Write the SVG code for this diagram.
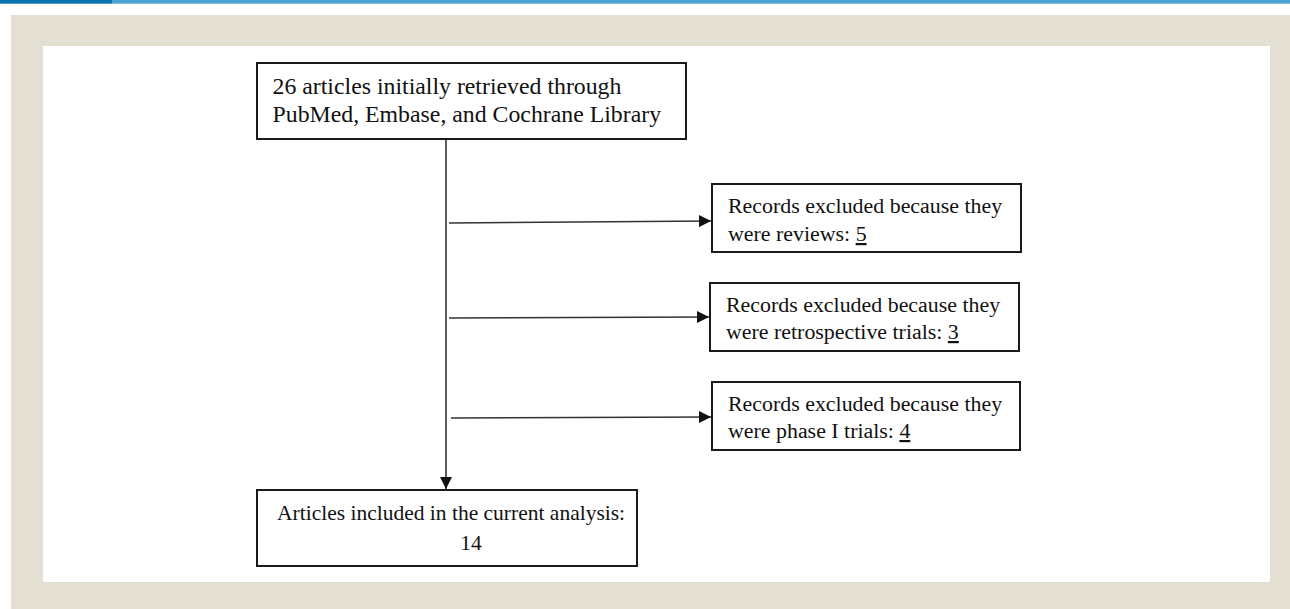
<svg xmlns="http://www.w3.org/2000/svg" width="1290" height="609" viewBox="0 0 1290 609">
<style>
.bg{fill:#e4dfd3}
.box{fill:#ffffff;stroke:#1a1a1a;stroke-width:2}
.t{font-family:"Liberation Serif","Times New Roman",serif;fill:#111111}
.conn{stroke:#333333;stroke-width:1.6;fill:none}
</style>
<defs>
<marker id="ah" viewBox="0 0 10 10" refX="10" refY="5" markerWidth="12" markerHeight="12" markerUnits="userSpaceOnUse" orient="auto">
<path d="M0,0 L10,5 L0,10 Z" fill="#111111"/>
</marker>
</defs>
<rect x="0" y="0" width="1290" height="609" fill="#ffffff"/>
<rect x="0" y="0" width="112" height="3.7" fill="#0a74ad"/>
<rect x="112" y="0" width="1178" height="3.7" fill="#4aa3cf"/>
<rect class="bg" x="11" y="15" width="1279" height="31"/>
<rect class="bg" x="11" y="46" width="32" height="536"/>
<rect class="bg" x="1270" y="46" width="20" height="536"/>
<rect class="bg" x="11" y="582" width="1279" height="27"/>

<g id="connectors">
<line class="conn" x1="446" y1="139" x2="446" y2="489" marker-end="url(#ah)"/>
<line class="conn" x1="449" y1="223" x2="711" y2="221" marker-end="url(#ah)"/>
<line class="conn" x1="449" y1="318" x2="709" y2="317" marker-end="url(#ah)"/>
<line class="conn" x1="451" y1="418" x2="711" y2="417" marker-end="url(#ah)"/>
</g>

<g id="n1">
<rect class="box" x="257" y="63" width="429" height="76"/>
<text class="t" font-size="23.8" x="272.5" y="94.3">26 articles initially retrieved through</text>
<text class="t" font-size="23.8" x="272.5" y="121.7">PubMed, Embase, and Cochrane Library</text>
</g>

<g id="n2">
<rect class="box" x="712" y="184" width="309" height="68"/>
<text class="t" font-size="21.9" x="728" y="213">Records excluded because they</text>
<text class="t" font-size="21.9" x="728" y="241">were reviews: <tspan text-decoration="underline">5</tspan></text>
</g>

<g id="n3">
<rect class="box" x="710" y="283" width="309" height="68"/>
<text class="t" font-size="21.9" x="726" y="312">Records excluded because they</text>
<text class="t" font-size="21.9" x="726" y="339">were retrospective trials: <tspan text-decoration="underline">3</tspan></text>
</g>

<g id="n4">
<rect class="box" x="712" y="382" width="308" height="68"/>
<text class="t" font-size="21.9" x="728" y="411">Records excluded because they</text>
<text class="t" font-size="21.9" x="728" y="438">were phase I trials: <tspan text-decoration="underline">4</tspan></text>
</g>

<g id="n5">
<rect class="box" x="257" y="490" width="380" height="76"/>
<text class="t" font-size="21.5" x="277" y="520">Articles included in the current analysis:</text>
<text class="t" font-size="21.5" x="471" y="550" text-anchor="middle">14</text>
</g>
</svg>
